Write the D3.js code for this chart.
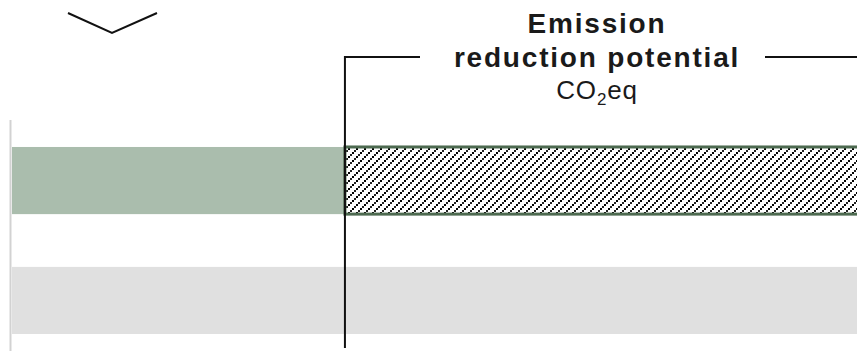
<!DOCTYPE html>
<html>
<head>
<meta charset="utf-8">
<title>Emission reduction potential</title>
<style>
  body { margin: 0; background: #fff; }
  svg { display: block; font-family: "Liberation Sans", Arial, sans-serif; }
</style>
</head>
<body>
<div id="chart"></div>
<script src="https://cdnjs.cloudflare.com/ajax/libs/d3/7.8.5/d3.min.js"></script>
<script>
// rows of the bar chart, top to bottom
var rows = ["current", "reference"];
// top row: emitted share, then reduction potential
var emittedValues = [39.4, 0];
var reductionValues = [62, 0];
// bottom row: reference bar across the whole width
var referenceValues = [0, 101.5];
var titleLines = ["Emission", "reduction potential"];
var unitLabel = ["CO", "2", "eq"];

var width = 857, height = 351;
var green = "#aabdad", greenDark = "#4d6a50", grey = "#e0e0e0";

var svg = d3.select("#chart").append("svg")
  .attr("width", width).attr("height", height);

var x = d3.scaleLinear().domain([0, 100]).range([12, 857]);
var y = d3.scaleBand().domain(rows).range([120, 361])
  .paddingInner(0.44).paddingOuter(0.225);

// hatch pattern: stair-step diagonal lines, on whole pixels so they stay crisp
var defs = svg.append("defs");
var pat = defs.append("pattern")
  .attr("id", "hatch")
  .attr("patternUnits", "userSpaceOnUse")
  .attr("width", 8).attr("height", 8);
pat.append("rect").attr("width", 8).attr("height", 8).attr("fill", "#fff");
d3.range(4).forEach(function(k){
  pat.append("rect")
    .attr("x", 2 * k)
    .attr("y", (8 - 2 * k) % 8)
    .attr("width", 2).attr("height", 2)
    .attr("fill", k % 2 ? "#222" : "#000")
    .attr("shape-rendering", "crispEdges");
});

// left axis line
svg.append("line")
  .attr("x1", 10.5).attr("x2", 10.5)
  .attr("y1", 120).attr("y2", height)
  .attr("stroke", "#d2d2d2").attr("stroke-width", 2);

// reference (grey) bar
svg.selectAll(".ref").data(rows.map(function(r, i){ return {row: r, v: referenceValues[i]}; }))
  .enter().filter(function(d){ return d.v > 0; })
  .append("rect")
  .attr("class", "ref")
  .attr("x", x(0))
  .attr("y", function(d){ return y(d.row); })
  .attr("width", function(d){ return x(d.v) - x(0); })
  .attr("height", y.bandwidth())
  .attr("fill", grey);

// emitted (green) bar
svg.selectAll(".emit").data(rows.map(function(r, i){ return {row: r, v: emittedValues[i]}; }))
  .enter().filter(function(d){ return d.v > 0; })
  .append("rect")
  .attr("class", "emit")
  .attr("x", x(0))
  .attr("y", function(d){ return y(d.row); })
  .attr("width", function(d){ return x(d.v) - x(0); })
  .attr("height", y.bandwidth())
  .attr("fill", green);

// reduction potential (hatched) bar
svg.selectAll(".red").data(rows.map(function(r, i){ return {row: r, start: emittedValues[i], v: reductionValues[i]}; }))
  .enter().filter(function(d){ return d.v > 0; })
  .append("rect")
  .attr("class", "red")
  .attr("x", function(d){ return x(d.start); })
  .attr("y", function(d){ return y(d.row); })
  .attr("width", function(d){ return x(d.start + d.v) - x(d.start); })
  .attr("height", y.bandwidth())
  .attr("fill", "url(#hatch)")
  .attr("stroke", greenDark)
  .attr("stroke-width", 3);

// bracket for the reduction potential
var bx = x(emittedValues[0]);
var by = 57;
svg.append("path")
  .attr("d", "M" + bx + "," + (height - 3) + "V" + by + "H420M765," + by + "H" + width)
  .attr("fill", "none").attr("stroke", "#111").attr("stroke-width", 2);

// chevron
svg.append("path")
  .attr("d", "M68,13L112,33L157,13")
  .attr("fill", "none").attr("stroke", "#111").attr("stroke-width", 2);

// title
var cx = 597;
svg.selectAll(".title").data(titleLines).enter().append("text")
  .attr("class", "title")
  .attr("x", cx).attr("y", function(d, i){ return 33 + i * 34; })
  .attr("text-anchor", "middle")
  .attr("font-weight", "bold").attr("font-size", 28)
  .attr("letter-spacing", 1.8)
  .attr("fill", "#1a1a1a")
  .text(function(d){ return d; });

var unit = svg.append("text")
  .attr("x", cx).attr("y", 99)
  .attr("text-anchor", "middle")
  .attr("font-size", 26).attr("letter-spacing", 0.8).attr("fill", "#1a1a1a");
unit.append("tspan").text(unitLabel[0]);
unit.append("tspan").attr("font-size", 17).attr("dy", 6).text(unitLabel[1]);
unit.append("tspan").attr("dy", -6).text(unitLabel[2]);
</script>
</body>
</html>
